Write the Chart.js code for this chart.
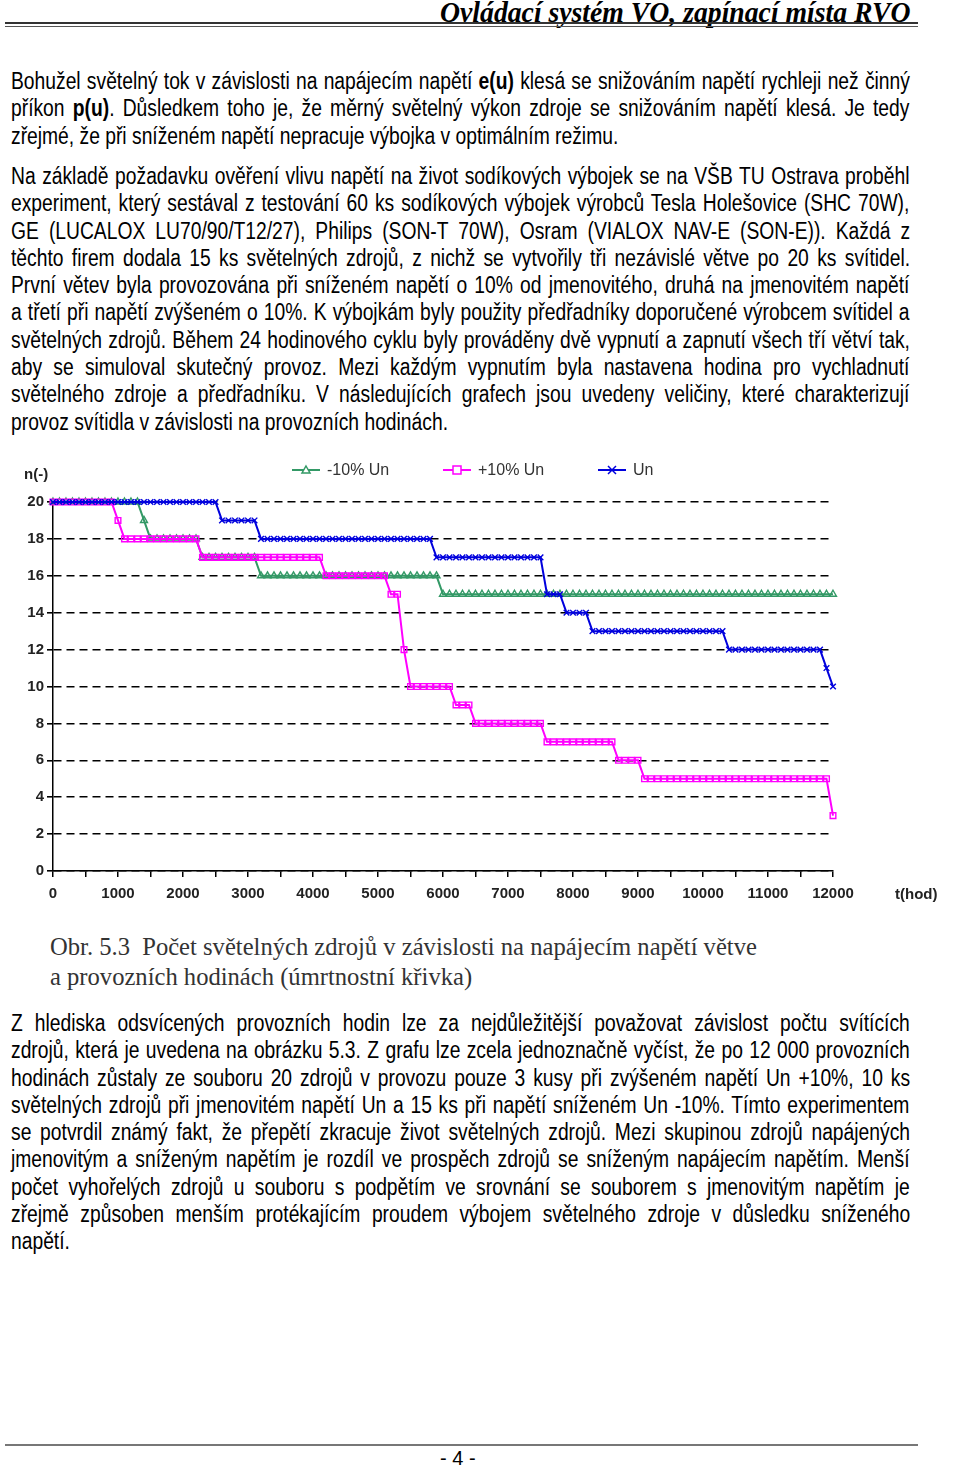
<!DOCTYPE html>
<html lang="cs">
<head>
<meta charset="utf-8">
<title>Obr. 5.3 Počet světelných zdrojů</title>
<script src="https://cdn.jsdelivr.net/npm/chart.js@4.4.1/dist/chart.umd.min.js"></script>
<style>
body { margin: 0; background: #fff; }
#page { position: relative; width: 960px; height: 1467px; overflow: hidden; color: #000;
  font-family: "Liberation Sans", Arial, sans-serif; }
.head { position: absolute; right: 50px; top: -5px; white-space: nowrap; line-height: 30px;
  font: italic bold 30px "Liberation Serif", serif; transform-origin: right top; }
.rule1 { position: absolute; left: 5px; width: 913px; top: 22px; height: 2px; background: #333; }
.rule2 { position: absolute; left: 5px; width: 913px; top: 26px; height: 1px; background: #555; }
.para { position: absolute; left: 11px; width: 1096px; font-size: 23.5px; line-height: 27.3px;
  transform: scaleX(0.82); transform-origin: 0 0; }
.para div { white-space: nowrap; }
#chartBox { position: absolute; left: 0; top: 440px; width: 960px; height: 490px; }
.caption { position: absolute; left: 50px; top: 932px; font: 24.6px "Liberation Serif", serif;
  line-height: 30px; color: #333; white-space: nowrap; }
.footrule { position: absolute; left: 5px; width: 913px; top: 1444px; height: 2px; background: #777; }
.pageno { position: absolute; left: 440px; top: 1447px; font: 20px "Liberation Sans", sans-serif; }
</style>
</head>
<body>
<div id="page">
  <div class="head" id="head">Ovládací systém VO, zapínací místa RVO</div>
  <div class="rule1"></div>
  <div class="rule2"></div>

  <div class="para" style="top:68px">
    <div>Bohužel světelný tok v závislosti na napájecím napětí <b>e(u)</b> klesá se snižováním napětí rychleji než činný</div>
    <div>příkon <b>p(u)</b>. Důsledkem toho je, že měrný světelný výkon zdroje se snižováním napětí klesá. Je tedy</div>
    <div class="last">zřejmé, že při sníženém napětí nepracuje výbojka v optimálním režimu.</div>
  </div>

  <div class="para" style="top:163px">
    <div>Na základě požadavku ověření vlivu napětí na život sodíkových výbojek se na VŠB TU Ostrava proběhl</div>
    <div>experiment, který sestával z testování 60 ks sodíkových výbojek výrobců Tesla Holešovice (SHC 70W),</div>
    <div>GE (LUCALOX LU70/90/T12/27), Philips (SON-T 70W), Osram (VIALOX NAV-E (SON-E)). Každá z</div>
    <div>těchto firem dodala 15 ks světelných zdrojů, z nichž se vytvořily tři nezávislé větve po 20 ks svítidel.</div>
    <div>První větev byla provozována při sníženém napětí o 10% od jmenovitého, druhá na jmenovitém napětí</div>
    <div>a třetí při napětí zvýšeném o 10%. K výbojkám byly použity předřadníky doporučené výrobcem svítidel a</div>
    <div>světelných zdrojů. Během 24 hodinového cyklu byly prováděny dvě vypnutí a zapnutí všech tří větví tak,</div>
    <div>aby se simuloval skutečný provoz. Mezi každým vypnutím byla nastavena hodina pro vychladnutí</div>
    <div>světelného zdroje a předřadníku. V následujících grafech jsou uvedeny veličiny, které charakterizují</div>
    <div class="last">provoz svítidla v závislosti na provozních hodinách.</div>
  </div>

  <div id="chartBox"><canvas id="lifeChart"></canvas></div>

  <div class="caption">Obr. 5.3&nbsp; Počet světelných zdrojů v závislosti na napájecím napětí větve<br>a provozních hodinách (úmrtnostní křivka)</div>

  <div class="para" style="top:1010px">
    <div>Z hlediska odsvícených provozních hodin lze za nejdůležitější považovat závislost počtu svítících</div>
    <div>zdrojů, která je uvedena na obrázku 5.3. Z grafu lze zcela jednoznačně vyčíst, že po 12 000 provozních</div>
    <div>hodinách zůstaly ze souboru 20 zdrojů v provozu pouze 3 kusy při zvýšeném napětí Un +10%, 10 ks</div>
    <div>světelných zdrojů při jmenovitém napětí Un a 15 ks při napětí sníženém Un -10%. Tímto experimentem</div>
    <div>se potvrdil známý fakt, že přepětí zkracuje život světelných zdrojů. Mezi skupinou zdrojů napájených</div>
    <div>jmenovitým a sníženým napětím je rozdíl ve prospěch zdrojů se sníženým napájecím napětím. Menší</div>
    <div>počet vyhořelých zdrojů u souboru s podpětím ve srovnání se souborem s jmenovitým napětím je</div>
    <div>zřejmě způsoben menším protékajícím proudem výbojem světelného zdroje v důsledku sníženého</div>
    <div class="last">napětí.</div>
  </div>

  <div class="footrule"></div>
  <div class="pageno">- 4 -</div>
</div>

<script>
// provozni hodiny (odecet zhruba po 100 h)
const hours = [
    0, 100, 200, 300, 400, 500, 600, 700, 800, 900,
    1000, 1100, 1200, 1300, 1400, 1500, 1600, 1700, 1800, 1900,
    2000, 2100, 2200, 2300, 2400, 2500, 2600, 2700, 2800, 2900,
    3000, 3100, 3200, 3300, 3400, 3500, 3600, 3700, 3800, 3900,
    4000, 4100, 4200, 4300, 4400, 4500, 4600, 4700, 4800, 4900,
    5000, 5100, 5200, 5300, 5400, 5500, 5600, 5700, 5800, 5900,
    6000, 6100, 6200, 6300, 6400, 6500, 6600, 6700, 6800, 6900,
    7000, 7100, 7200, 7300, 7400, 7500, 7600, 7700, 7800, 7900,
    8000, 8100, 8200, 8300, 8400, 8500, 8600, 8700, 8800, 8900,
    9000, 9100, 9200, 9300, 9400, 9500, 9600, 9700, 9800, 9900,
    10000, 10100, 10200, 10300, 10400, 10500, 10600, 10700, 10800, 10900,
    11000, 11100, 11200, 11300, 11400, 11500, 11600, 11700, 11800, 11900,
    12000
];

// pocet sviticich zdroju v kazde vetvi
const minus10 = [
    20, 20, 20, 20, 20, 20, 20, 20, 20, 20,
    20, 20, 20, 20, 19, 18, 18, 18, 18, 18,
    18, 18, 18, 17, 17, 17, 17, 17, 17, 17,
    17, 17, 16, 16, 16, 16, 16, 16, 16, 16,
    16, 16, 16, 16, 16, 16, 16, 16, 16, 16,
    16, 16, 16, 16, 16, 16, 16, 16, 16, 16,
    15, 15, 15, 15, 15, 15, 15, 15, 15, 15,
    15, 15, 15, 15, 15, 15, 15, 15, 15, 15,
    15, 15, 15, 15, 15, 15, 15, 15, 15, 15,
    15, 15, 15, 15, 15, 15, 15, 15, 15, 15,
    15, 15, 15, 15, 15, 15, 15, 15, 15, 15,
    15, 15, 15, 15, 15, 15, 15, 15, 15, 15,
    15
];
const plus10 = [
    20, 20, 20, 20, 20, 20, 20, 20, 20, 20,
    19, 18, 18, 18, 18, 18, 18, 18, 18, 18,
    18, 18, 18, 17, 17, 17, 17, 17, 17, 17,
    17, 17, 17, 17, 17, 17, 17, 17, 17, 17,
    17, 17, 16, 16, 16, 16, 16, 16, 16, 16,
    16, 16, 15, 15, 12, 10, 10, 10, 10, 10,
    10, 10, 9, 9, 9, 8, 8, 8, 8, 8,
    8, 8, 8, 8, 8, 8, 7, 7, 7, 7,
    7, 7, 7, 7, 7, 7, 7, 6, 6, 6,
    6, 5, 5, 5, 5, 5, 5, 5, 5, 5,
    5, 5, 5, 5, 5, 5, 5, 5, 5, 5,
    5, 5, 5, 5, 5, 5, 5, 5, 5, 5,
    3
];
const nominal = [
    20, 20, 20, 20, 20, 20, 20, 20, 20, 20,
    20, 20, 20, 20, 20, 20, 20, 20, 20, 20,
    20, 20, 20, 20, 20, 20, 19, 19, 19, 19,
    19, 19, 18, 18, 18, 18, 18, 18, 18, 18,
    18, 18, 18, 18, 18, 18, 18, 18, 18, 18,
    18, 18, 18, 18, 18, 18, 18, 18, 18, 17,
    17, 17, 17, 17, 17, 17, 17, 17, 17, 17,
    17, 17, 17, 17, 17, 17, 15, 15, 15, 14,
    14, 14, 14, 13, 13, 13, 13, 13, 13, 13,
    13, 13, 13, 13, 13, 13, 13, 13, 13, 13,
    13, 13, 13, 13, 12, 12, 12, 12, 12, 12,
    12, 12, 12, 12, 12, 12, 12, 12, 12, 11,
    10
];

const seriesNames = ['-10% Un', '+10% Un', 'Un'];
const seriesColors = ['#339966', '#ff00ff', '#0000dd'];
const xTickLabels = [0, 1000, 2000, 3000, 4000, 5000, 6000, 7000, 8000, 9000, 10000, 11000, 12000];

const tickFont = { family: '"Liberation Sans", Arial, sans-serif', size: 15, weight: 'bold' };

// zarovnani radku do bloku (jako ve Wordu) - rucne pres word-spacing
function justifyLines() {
    document.querySelectorAll('.para div').forEach(line => {
        const span = document.createElement('span');
        span.innerHTML = line.innerHTML;
        line.innerHTML = '';
        line.appendChild(span);
        if (line.classList.contains('last')) return;
        const gaps = span.textContent.split(' ').length - 1;
        const free = line.clientWidth - span.offsetWidth;
        if (gaps > 0) line.style.wordSpacing = (free / gaps) + 'px';
    });
    const head = document.getElementById('head');
    head.style.transform = `scaleX(${470 / head.offsetWidth})`;
}
justifyLines();

function toPoints(values) {
    return hours.map((h, i) => ({ x: h, y: values[i] }));
}

// legenda nahore - cara se znackou uprostred
function drawMarker(ctx, style, x, y) {
    ctx.beginPath();
    if (style === 'triangle') {
        ctx.moveTo(x, y - 4); ctx.lineTo(x + 4, y + 3); ctx.lineTo(x - 4, y + 3); ctx.closePath();
    } else if (style === 'rect') {
        ctx.rect(x - 4, y - 4, 8, 8);
    } else {
        ctx.moveTo(x - 4, y - 4); ctx.lineTo(x + 4, y + 4);
        ctx.moveTo(x + 4, y - 4); ctx.lineTo(x - 4, y + 4);
    }
    ctx.fillStyle = '#fff';
    if (style !== 'crossRot') ctx.fill();
    ctx.stroke();
}

const chartLabels = {
    id: 'chartLabels',
    afterDraw(chart) {
        const ctx = chart.ctx;
        ctx.save();
        ctx.fillStyle = '#222';
        ctx.textBaseline = 'middle';
        ctx.font = 'bold 15px "Liberation Sans", Arial, sans-serif';
        ctx.fillText('n(-)', 24, 35);
        ctx.fillText('t(hod)', 895, 455);

        const legendX = [292, 443, 598];
        ctx.font = '16px "Liberation Sans", Arial, sans-serif';
        chart.data.datasets.forEach((ds, i) => {
            const x = legendX[i];
            const y = 30;
            ctx.strokeStyle = ds.borderColor;
            ctx.lineWidth = 2;
            ctx.beginPath();
            ctx.moveTo(x, y);
            ctx.lineTo(x + 28, y);
            ctx.stroke();
            ctx.lineWidth = 1.5;
            drawMarker(ctx, ds.pointStyle, x + 14, y);
            ctx.fillStyle = '#333';
            ctx.fillText(ds.label, x + 35, y + 1);
        });
        ctx.restore();
    }
};

const datasets = [minus10, plus10, nominal].map((values, i) => ({
    label: seriesNames[i],
    data: toPoints(values),
    borderColor: seriesColors[i],
    backgroundColor: 'rgba(255,255,255,0)',
    borderWidth: 2,
    pointStyle: ['triangle', 'rect', 'crossRot'][i],
    pointRadius: 4,
    pointBorderWidth: 1.4,
    order: 2 - i,
    clip: false
}));

new Chart(document.getElementById('lifeChart'), {
    type: 'line',
    data: { datasets: datasets },
    options: {
        responsive: true,
        maintainAspectRatio: false,
        animation: false,
        layout: { padding: { left: 10, right: 127, top: 62, bottom: 19 } },
        plugins: { legend: { display: false }, tooltip: { enabled: false } },
        scales: {
            x: {
                type: 'linear',
                min: 0,
                max: 12000,
                afterFit: (scale) => { scale.height = 40; },
                afterBuildTicks: (scale) => {
                    const ticks = [];
                    for (let v = 0; v <= 12000; v += 500) ticks.push({ value: v });
                    scale.ticks = ticks;
                },
                ticks: {
                    autoSkip: false,
                    maxRotation: 0,
                    padding: 8,
                    color: '#222',
                    font: tickFont,
                    callback: (v) => xTickLabels.includes(v) ? String(v) : ''
                },
                grid: { drawOnChartArea: false, drawTicks: true, tickLength: 6, color: '#000', lineWidth: 1.5 },
                border: { color: '#000', width: 1.5 }
            },
            y: {
                min: 0,
                max: 20,
                afterFit: (scale) => { scale.width = 43; },
                ticks: { stepSize: 2, padding: 3, color: '#222', font: tickFont },
                grid: { color: '#000', lineWidth: 1.6, tickLength: 6, tickBorderDash: [] },
                border: { color: '#000', width: 1.5, dash: [8, 5] }
            }
        }
    },
    plugins: [chartLabels]
});
</script>
</body>
</html>
